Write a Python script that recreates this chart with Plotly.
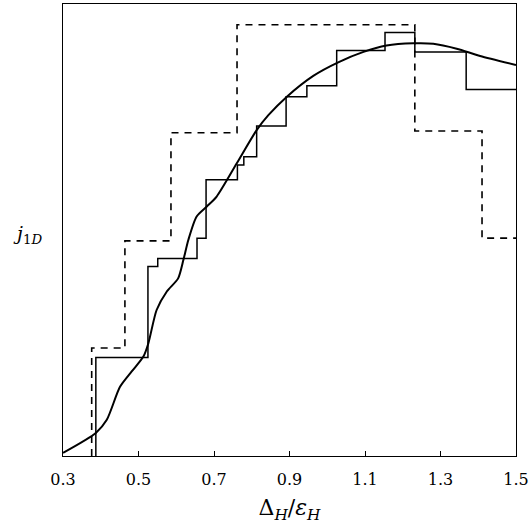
import plotly.graph_objects as go

# Smooth curve (x, relative j_1D)
curve_x = [0.300, 0.387, 0.416, 0.451, 0.482, 0.513, 0.526, 0.548, 0.575, 0.605,
           0.619, 0.632, 0.654, 0.681, 0.707, 0.760, 0.813, 0.844, 0.893, 0.963,
           1.029, 1.096, 1.157, 1.228, 1.281, 1.343, 1.405, 1.500]
curve_y = [0.007, 0.051, 0.080, 0.153, 0.187, 0.220, 0.249, 0.323, 0.364, 0.393,
           0.434, 0.478, 0.530, 0.552, 0.574, 0.647, 0.721, 0.754, 0.795, 0.841,
           0.871, 0.894, 0.908, 0.913, 0.912, 0.901, 0.885, 0.865]

# Solid step function (level starting at each x)
solid_x = [0.387, 0.387, 0.525, 0.551, 0.655, 0.679, 0.762, 0.779, 0.813, 0.891,
           0.946, 1.025, 1.153, 1.232, 1.368, 1.500]
solid_y = [0.000, 0.218, 0.419, 0.437, 0.482, 0.611, 0.644, 0.662, 0.730, 0.795,
           0.819, 0.897, 0.937, 0.894, 0.811, 0.811]

# Dashed step function
dash_x = [0.376, 0.376, 0.464, 0.586, 0.761, 1.232, 1.410, 1.500]
dash_y = [0.000, 0.239, 0.476, 0.715, 0.954, 0.719, 0.482, 0.482]

tick_vals = [0.3, 0.5, 0.7, 0.9, 1.1, 1.3, 1.5]
tick_text = ["0.3", "0.5", "0.7", "0.9", "1.1", "1.3", "1.5"]

fig = go.Figure()
fig.add_trace(go.Scatter(x=dash_x, y=dash_y, mode="lines", line_shape="hv",
                         line=dict(color="black", width=1.6, dash="7px,6px"),
                         showlegend=False))
fig.add_trace(go.Scatter(x=solid_x, y=solid_y, mode="lines", line_shape="hv",
                         line=dict(color="black", width=1.5), showlegend=False))
fig.add_trace(go.Scatter(x=curve_x, y=curve_y, mode="lines", line_shape="spline",
                         line=dict(color="black", width=2, smoothing=0.7),
                         showlegend=False))

fig.update_layout(
    width=532, height=529,
    margin=dict(l=63, r=16, t=4, b=73, autoexpand=False),
    paper_bgcolor="white", plot_bgcolor="white",
    font=dict(family="DejaVu Serif", color="black"),
    xaxis=dict(range=[0.3, 1.5], tickvals=tick_vals, ticktext=tick_text,
               ticks="inside", ticklen=5, tickcolor="black", showgrid=False,
               zeroline=False, showline=True, linecolor="black", linewidth=1,
               mirror=True, automargin=False, ticklabelstandoff=9,
               tickfont=dict(family="DejaVu Serif", size=16),
               title=dict(text="Δ<sub><i>H</i></sub>/<i>ε</i><sub><i>H</i></sub>",
                          font=dict(family="DejaVu Serif", size=22), standoff=11)),
    yaxis=dict(range=[0, 1], showticklabels=False, ticks="", showgrid=False,
               zeroline=False, showline=True, linecolor="black", linewidth=1,
               mirror=True, automargin=False),
    annotations=[dict(text="<i>j</i><sub>1<i>D</i></sub>", xref="paper", yref="paper",
                      x=-0.078, y=0.49, xanchor="center", yanchor="middle",
                      showarrow=False, font=dict(family="DejaVu Serif", size=19))],
)

fig.write_html("out.html", config={"displayModeBar": False},
               post_script="document.body.style.margin='0';document.body.style.padding='0';")
